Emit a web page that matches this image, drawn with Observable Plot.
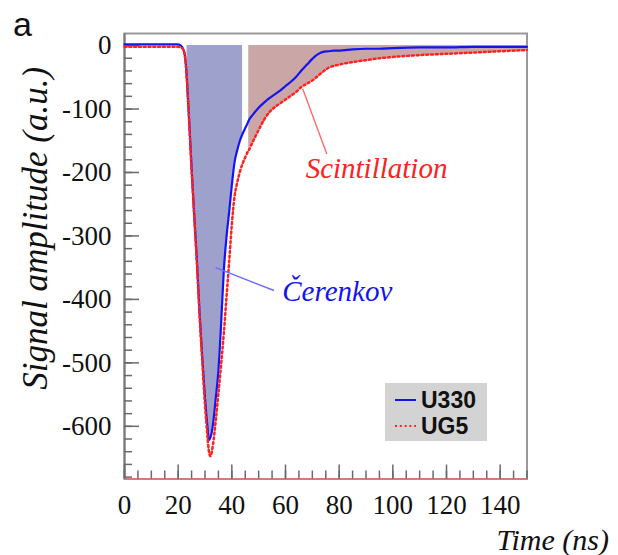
<!DOCTYPE html>
<html>
<head>
<meta charset="utf-8">
<script src="https://cdn.jsdelivr.net/npm/d3@7"></script>
<script src="https://cdn.jsdelivr.net/npm/@observablehq/plot@0.6"></script>
<style>
  body { margin: 0; background: #fff; }
  #wrap { position: relative; width: 618px; height: 555px; }
  #chart svg text { font-family: "Liberation Serif", "Times New Roman", Times, serif !important; }
  #panel { position: absolute; left: 13px; top: 5px; line-height: 34px; font: 34px "Liberation Sans", Arial, sans-serif; color: #111; }
  #legend { position: absolute; left: 385px; top: 383px; width: 102px; height: 58px; background: #d3d3d3;
            font: bold 23px "Liberation Sans", Arial, sans-serif; color: #111; }
  #legend .row { position: absolute; left: 10px; height: 26px; display: flex; align-items: center; }
  #legend svg { margin-right: 5px; }
</style>
</head>
<body>
<div id="wrap">
  <div id="chart"></div>
  <div id="panel">a</div>
  <div id="legend"></div>
</div>
<script>
// Sampling times (ns) of the averaged pulses
const times = [0, 5, 10, 15, 20, 21, 22, 22.5, 23, 23.3, 24, 25, 26, 27, 28, 29, 30, 31, 31.4, 32,
  33, 34, 35, 36, 37, 38, 39, 40, 41, 42, 43, 44, 45, 46, 46.3, 48, 50, 52, 54, 56, 58, 60, 62, 64,
  66, 68, 70, 72, 74, 76, 78, 80, 85, 90, 95, 100, 110, 120, 130, 140, 150];

// Signal amplitude (a.u.) through the U330 filter
const u330 = [2, 2, 2, 2, 2, 0, -7, -16, -37, -57, -111, -194, -269, -341, -424, -493, -556, -605, -622, -618,
  -596, -556, -512, -439, -355, -302, -262, -220, -184, -165, -150, -139, -130, -121, -118, -108, -98, -90, -83, -77, -71, -64, -57, -49,
  -39, -30, -21, -14, -10, -9, -8, -8, -6, -5, -5, -4, -3, -3, -2, -2, -2];

// Signal amplitude (a.u.) through the UG5 filter
const ug5 = [-2, -2, -2, -2, -2, -3, -7, -16, -37, -57, -111, -194, -269, -344, -426, -498, -566, -620, -638, -647,
  -628, -591, -548, -503, -454, -397, -341, -282, -238, -216, -199, -186, -176, -167, -165, -150, -133, -117, -105, -97, -91, -85, -79, -73,
  -65, -60, -55, -48, -41, -35, -32, -30, -26, -23, -20, -18, -15, -13, -11, -9, -7];

// Integration gates (ns)
const cherenkovGate = [23.3, 44];
const scintGate = [46.3, 150];

// Axis extents and ticks
const xDomain = [0, 150];
const yDomain = [-683, 19];
const xMajor = d3.range(0, 141, 20);
const xMinor = d3.range(0, 151, 5);
const yMajor = d3.range(-600, 1, 100);
const yMinor = d3.range(-680, 1, 20);

// Annotation labels: [time, amplitude] of the text and of its pointer ends
const cherenkovLabel = {text: "Čerenkov", at: [58.8, -402], from: [34, -350], to: [55.7, -386]};
const scintLabel = {text: "Scintillation", at: [67.5, -208], from: [66.4, -68], to: [75.4, -171]};

const rows = times.map((t, i) => ({t, u330: u330[i], ug5: ug5[i]}));
const inGate = ([a, b]) => (d) => d.t >= a && d.t <= b;

const serif = '"Liberation Serif", "Times New Roman", Times, serif';
const blue = "#1414f0";
const red = "#ff2020";

const chart = Plot.plot({
  width: 618,
  height: 555,
  marginLeft: 124,
  marginRight: 91.5,
  marginTop: 33,
  marginBottom: 76.5,
  x: {domain: xDomain},
  y: {domain: yDomain},
  style: {fontFamily: serif, fontSize: "27px", color: "#111", background: "transparent"},
  marks: [
    // shaded integration windows
    Plot.areaY(rows.filter(inGate(cherenkovGate)), {x: "t", y1: 0, y2: "u330", fill: "#9fa1cd"}),
    Plot.areaY(rows.filter(inGate(scintGate)), {x: "t", y1: 0, y2: "ug5", fill: "#cba6a6"}),

    // frame, axis lines and inward ticks
    Plot.frame({stroke: "#9a9a9a", strokeWidth: 2}),
    Plot.ruleX([xDomain[0]], {stroke: "#7a7a7a", strokeWidth: 2}),
    Plot.ruleY([yDomain[0]], {stroke: "#d97878", strokeWidth: 2}),
    Plot.axisY(yMinor, {tickSize: -8, fill: "none", stroke: "#6a6a6a", strokeWidth: 1.5}),
    Plot.axisY(yMajor, {tickSize: -15, fill: "none", stroke: "#6a6a6a", strokeWidth: 1.5}),
    Plot.axisX(xMinor, {tickSize: -8, fill: "none", stroke: "#6a6a6a", strokeWidth: 1.5}),
    Plot.axisX(xMajor, {tickSize: -14, fill: "none", stroke: "#6a6a6a", strokeWidth: 1.5}),
    Plot.axisY(yMajor, {tickSize: 0, tickPadding: 13, label: null, tickFormat: (d) => String(d)}),
    Plot.axisX(xMajor, {tickSize: 0, tickPadding: 16, label: null, tickFormat: (d) => String(d)}),

    // pulses
    Plot.line(rows, {x: "t", y: "u330", stroke: blue, strokeWidth: 2.2, curve: "monotone-x"}),
    Plot.line(rows, {x: "t", y: "ug5", stroke: red, strokeWidth: 2.5, strokeDasharray: "2 2.8", curve: "monotone-x"}),

    // annotations
    Plot.link([cherenkovLabel], {x1: (d) => d.from[0], y1: (d) => d.from[1], x2: (d) => d.to[0], y2: (d) => d.to[1], stroke: "#6b6bff", strokeWidth: 1.4}),
    Plot.link([scintLabel], {x1: (d) => d.from[0], y1: (d) => d.from[1], x2: (d) => d.to[0], y2: (d) => d.to[1], stroke: "#ff6b6b", strokeWidth: 1.4}),
    Plot.text([cherenkovLabel], {x: (d) => d.at[0], y: (d) => d.at[1], text: "text", textAnchor: "start", lineAnchor: "bottom",
      fill: blue, fontSize: 29, fontStyle: "italic", fontFamily: serif}),
    Plot.text([scintLabel], {x: (d) => d.at[0], y: (d) => d.at[1], text: "text", textAnchor: "start", lineAnchor: "bottom",
      fill: red, fontSize: 29, fontStyle: "italic", fontFamily: serif}),

    // axis titles
    Plot.text(["Signal amplitude (a.u.)"], {frameAnchor: "left", dx: -89, dy: -28, rotate: -90, textAnchor: "middle",
      fontSize: 35, fontStyle: "italic", fontFamily: serif, fill: "#111"}),
    Plot.text(["Time (ns)"], {frameAnchor: "bottom-right", dx: 82, dy: 71, textAnchor: "end", lineAnchor: "bottom",
      fontSize: 30, fontStyle: "italic", fontFamily: serif, fill: "#111"})
  ]
});
document.getElementById("chart").append(chart);

// legend
const legendItems = [
  {name: "U330", color: blue, dash: null, top: 4},
  {name: "UG5", color: red, dash: "2 2.8", top: 30}
];
const legend = d3.select("#legend");
for (const item of legendItems) {
  const row = legend.append("div").attr("class", "row").style("top", item.top + "px");
  const sw = row.append("svg").attr("width", 21).attr("height", 6);
  sw.append("line").attr("x1", 0).attr("x2", 21).attr("y1", 3).attr("y2", 3)
    .attr("stroke", item.color).attr("stroke-width", 2).attr("stroke-dasharray", item.dash);
  row.append("span").text(item.name);
}
</script>
</body>
</html>
